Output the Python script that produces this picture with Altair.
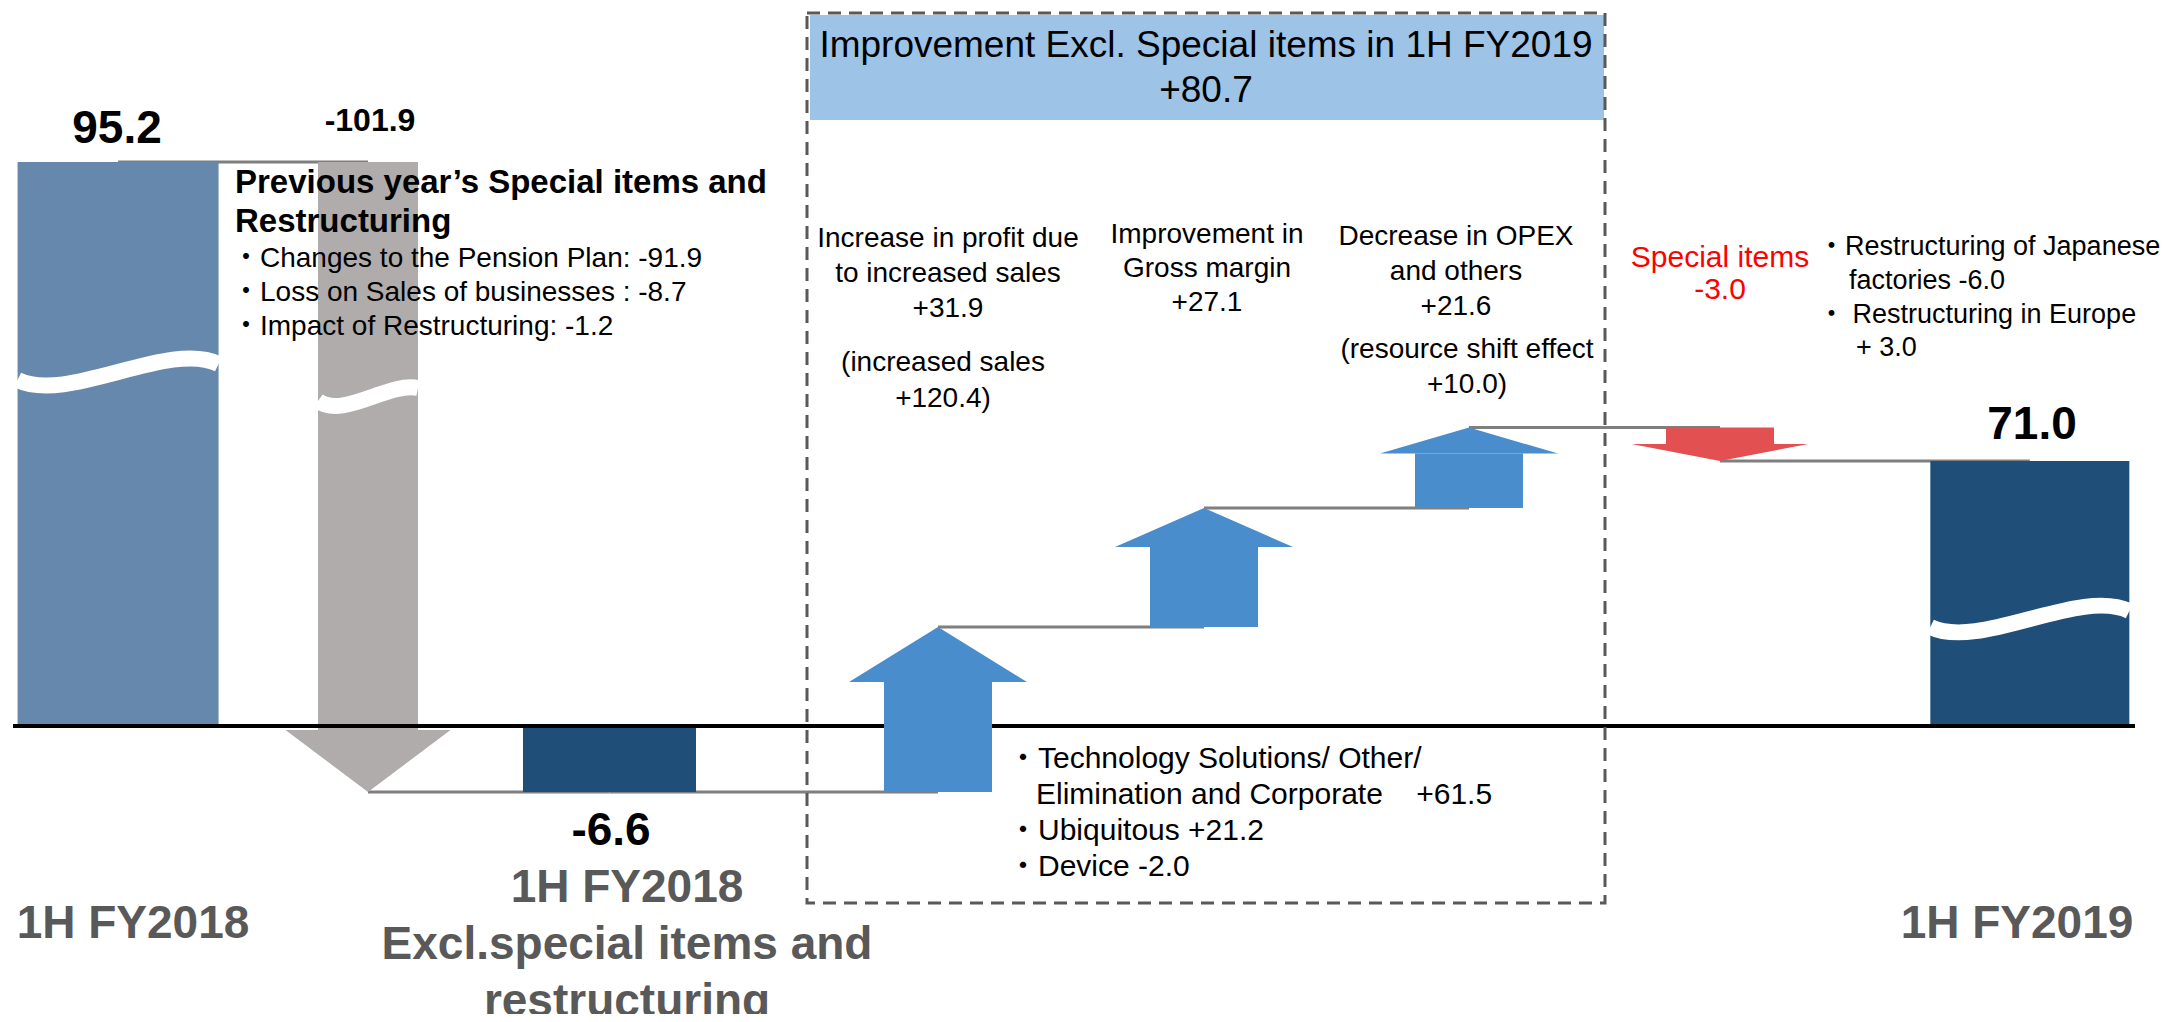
import altair as alt
import pandas as pd

# ---------------- data ----------------
labels = [
    "1H FY2018",
    "Previous year's special items and restructuring",
    "1H FY2018 excl. special items and restructuring",
    "Increase in profit due to increased sales",
    "Improvement in gross margin",
    "Decrease in OPEX and others",
    "Special items",
    "1H FY2019",
]
kinds = ["total", "change", "total", "change", "change", "change", "change", "total"]
values = [95.2, -101.9, -6.6, 31.9, 27.1, 21.6, -3.0, 71.0]

# ---------------- styles ----------------
COLORS = ["#6688AC", "#AFACAB", "#1F4E79", "#4A8DCC", "#4A8DCC", "#4A8DCC", "#E35052", "#1F4E79"]
FONT = "Liberation Sans, Arial, Noto Sans CJK JP, sans-serif"
OFF = 8  # page margin

rows = []
level = 0.0
for i, (lab, k, v) in enumerate(zip(labels, kinds, values)):
    if k == "total":
        start, end = 0.0, v
    else:
        start = level
        end = round(level + v, 1)
        if i + 1 < len(kinds) and kinds[i + 1] == "total":
            end = values[i + 1]  # snap to the reported (rounded) total
    level = end
    rows.append(dict(step=i, label=lab, kind=k, value=v, start=start, end=end))
df = pd.DataFrame(rows)

conn = pd.DataFrame(
    [dict(x=i, x2=i + 1, y=rows[i]["end"]) for i in range(len(rows) - 1)]
)

# schematic (broken) axis: piecewise-linear scales
y_domain = sorted({0.0, *[r["end"] for r in rows]})
Y_RANGE = [784, 718, 619, 500, 453, 419.5, 154]
X_RANGE = [105.5, 360, 601.5, 930, 1196, 1461, 1712, 2027.5]
xs = alt.Scale(domain=list(range(len(rows))), range=X_RANGE, zero=False, nice=False)
ys = alt.Scale(domain=y_domain, range=Y_RANGE, zero=False, nice=False)


def X(f="step"):
    return alt.X(f"{f}:Q", scale=xs, axis=None)


def Y(f):
    return alt.Y(f"{f}:Q", scale=ys, axis=None)


def sub(i):
    return df[df.step == i]


def box(x1, x2, y1, y2, **kw):
    return alt.Chart(pd.DataFrame({"a": [0]})).mark_rect(**kw).encode(
        x=alt.value(x1 - OFF), x2=alt.value(x2 - OFF),
        y=alt.value(y1 - OFF), y2=alt.value(y2 - OFF))


def txt(text, x, y, size, align="left", weight="normal", color="#000000", lh=None):
    return alt.Chart(pd.DataFrame({"t": [text]})).mark_text(
        align=align, baseline="alphabetic", fontSize=size, fontWeight=weight,
        color=color, font=FONT, lineBreak="\n", lineHeight=lh or size * 1.2,
    ).encode(x=alt.value(x - OFF), y=alt.value(y - OFF), text="t:N")


def arrow(i, shaft_w, head_w, head_h):
    r = rows[i]
    down = r["end"] < r["start"]
    b = round(2 * head_h / head_w, 4)
    if down:
        path = f"M-1,{-b} L1,{-b} L0,0 Z"
        off = -head_h
    else:
        path = f"M-1,{b} L1,{b} L0,0 Z"
        off = head_h
    shaft = alt.Chart(sub(i)).mark_bar(width=shaft_w, color=COLORS[i], y2Offset=off).encode(
        x=X(), y=Y("start"), y2=alt.Y2("end"))
    head = alt.Chart(sub(i)).mark_point(
        shape=path, size=head_w ** 2, filled=True, color=COLORS[i], opacity=1, strokeWidth=0
    ).encode(x=X(), y=Y("end"))
    return [shaft, head]


def total_bar(i, w):
    return alt.Chart(sub(i)).mark_bar(width=w, color=COLORS[i]).encode(
        x=X(), y=Y("start"), y2=alt.Y2("end"))


WAVE_BAR = "M-1,0.08 C-0.5,0.32 0.5,-0.32 1,-0.08"
WAVE_GREY = "M-1,0.06 C-0.5,0.42 0.4,-0.32 1,-0.2"


def wave(i, w, ypix, path):
    return alt.Chart(sub(i)).mark_point(
        shape=path, size=w ** 2, filled=False, stroke="white", strokeWidth=16,
        opacity=1, strokeCap="butt",
    ).encode(x=X(), y=alt.value(ypix - OFF))


layers = []
# header band of the dashed box
layers.append(box(810, 1604, 15, 120, color="#9DC3E6"))
# connectors
layers.append(alt.Chart(conn).mark_rule(color="#7F7F7F", strokeWidth=3).encode(
    x=X("x"), x2=alt.X2("x2"), y=Y("y")))
# totals
layers += [total_bar(0, 201), total_bar(2, 173), total_bar(7, 199)]
# previous-year special items arrow
layers += arrow(1, 100, 165, 62)
layers += [wave(0, 201, 372, WAVE_BAR), wave(1, 100, 398, WAVE_GREY)]
# zero line
layers.append(alt.Chart(pd.DataFrame({"z": [0.0]})).mark_rule(color="#000000", strokeWidth=4).encode(
    x=alt.value(13 - OFF), x2=alt.value(2135 - OFF), y=Y("z")))
# improvement arrows and special items arrow
layers += arrow(3, 108, 178, 55)
layers += arrow(4, 108, 178, 39)
layers += arrow(5, 108, 178, 26)
layers += arrow(6, 108, 177, 17)
layers.append(wave(7, 199, 619, WAVE_BAR))
# dashed frame
layers.append(box(807, 1605, 13, 903, fill="transparent", stroke="#595959",
                  strokeWidth=3, strokeDash=[13, 8]))

# texts
layers += [
    txt("95.2", 117, 143, 46, "center", "bold"),
    txt("-101.9", 370, 131, 32, "center", "bold"),
    txt("-6.6", 611, 845, 46, "center", "bold"),
    txt("71.0", 2032, 439, 46, "center", "bold"),
    txt("Previous year\u2019s Special items and\nRestructuring", 235, 193, 33, "left", "bold", lh=39),
    txt("\u30fbChanges to the Pension Plan: -91.9\n\u30fbLoss on Sales of businesses : -8.7\n\u30fbImpact of Restructuring: -1.2",
        232, 267, 28, "left", lh=34),
    txt("Improvement Excl. Special items in 1H FY2019\n+80.7", 1206, 57, 37, "center", lh=45),
    txt("Increase in profit due\nto increased sales\n+31.9", 948, 247, 28, "center", lh=35),
    txt("(increased sales\n+120.4)", 943, 371, 28, "center", lh=36),
    txt("Improvement in\nGross margin\n+27.1", 1207, 243, 28, "center", lh=34),
    txt("Decrease in OPEX\nand others\n+21.6", 1456, 245, 28, "center", lh=35),
    txt("(resource shift effect\n+10.0)", 1467, 358, 28, "center", lh=35),
    txt("\u30fbTechnology Solutions/ Other/", 1008, 768, 30, "left"),
    txt("Elimination and Corporate\u00a0\u00a0\u00a0\u00a0+61.5", 1036, 804, 30, "left"),
    txt("\u30fbUbiquitous +21.2\n\u30fbDevice -2.0", 1008, 840, 30, "left", lh=36),
    txt("Special items\n-3.0", 1720, 267, 30, "center", color="#FF0000", lh=32),
    txt("\u30fbRestructuring of Japanese", 1818, 255, 27, "left"),
    txt("factories -6.0", 1849, 289, 27, "left"),
    txt("\u30fb Restructuring in Europe", 1818, 323, 27, "left"),
    txt("+ 3.0", 1856, 356, 27, "left"),
    txt("1H FY2018", 133, 938, 46, "center", "bold", "#595959"),
    txt("1H FY2018\nExcl.special items and\nrestructuring", 627, 902, 46, "center", "bold", "#595959", lh=57),
    txt("1H FY2019", 2017, 938, 46, "center", "bold", "#595959"),
]

chart = alt.layer(*layers).properties(
    width=2160, height=1006,
    autosize=alt.AutoSizeParams(type="none"),
    padding=0,
).configure_view(strokeWidth=0)

chart.save("out.html", embed_options={"renderer": "svg", "actions": False})
